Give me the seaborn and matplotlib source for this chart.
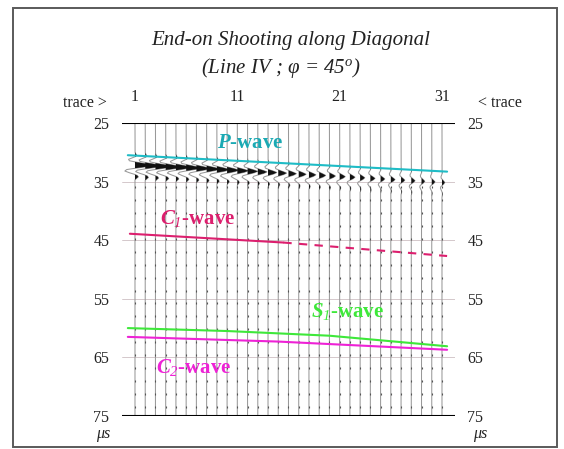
"""End-on shooting along diagonal: wiggle section with picked arrivals."""

import matplotlib

matplotlib.use("Agg")
import matplotlib.pyplot as plt
import numpy as np
import pandas as pd
import seaborn as sns
from matplotlib.patches import Rectangle

# --- data -----------------------------------------------------------------
traces = list(range(1, 32))
trace_ticks = [1, 11, 21, 31]
time_ticks = [25, 35, 45, 55, 65, 75]

peak_times = [32.2, 32.3, 32.4, 32.5, 32.55, 32.65, 32.75, 32.85, 32.95, 33.05,
              33.15, 33.25, 33.35, 33.45, 33.55, 33.65, 33.75, 33.85, 33.95, 34.05,
              34.15, 34.25, 34.35, 34.45, 34.55, 34.65, 34.75, 34.85, 34.95, 35.05, 35.15]
peak_amps = [2.0, 1.9, 1.85, 1.8, 1.7, 1.6, 1.5, 1.45, 1.4, 1.3,
             1.2, 1.1, 1.0, 0.95, 0.9, 0.85, 0.8, 0.75, 0.7, 0.65,
             0.6, 0.55, 0.5, 0.5, 0.45, 0.45, 0.4, 0.4, 0.35, 0.35, 0.3]

# wavelet shape, sampled every 0.25 us, peak at index 9
wavelet = [0.0, 0.03, 0.08, 0.05, -0.15, -0.35, -0.3, 0.1, 0.6, 1.0,
           0.65, 0.05, -0.45, -0.55, -0.35, -0.08, 0.12, 0.18, 0.08, 0.0]
wavelet_dt = 0.25
wavelet_peak = 9

# picked arrivals (trace, time in us)
p_wave_x = [0.3, 16.0, 31.5]
p_wave_t = [30.5, 31.9, 33.3]
c1_solid_x = [0.5, 15.5]
c1_solid_t = [43.9, 45.4]
c1_dash_x = [15.5, 31.5]
c1_dash_t = [45.4, 47.7]
s1_wave_x = [0.3, 10.0, 20.0, 31.5]
s1_wave_t = [60.0, 60.5, 61.3, 63.1]
c2_wave_x = [0.3, 15.0, 31.5]
c2_wave_t = [61.5, 62.3, 63.7]

P_COLOR = "#1fbcc6"
C1_COLOR = "#dc1f6e"
S1_COLOR = "#3ee83a"
C2_COLOR = "#ee22d6"

# --- style ----------------------------------------------------------------
sns.set_theme(style="white")
plt.rcParams["font.family"] = ["Liberation Serif", "DejaVu Serif"]
plt.rcParams["mathtext.fontset"] = "custom"
plt.rcParams["mathtext.rm"] = "Liberation Serif:italic"
plt.rcParams["mathtext.it"] = "Liberation Serif:italic:bold"
plt.rcParams["mathtext.bf"] = "Liberation Serif:bold"

fig = plt.figure(figsize=(5.64, 4.49), dpi=100)
ax = fig.add_axes([0.2163, 0.0735, 0.5904, 0.6526])

# frame around the whole figure
fig.patches.append(Rectangle((0.023, 0.004), 0.965, 0.978, transform=fig.transFigure,
                             fill=False, edgecolor="#5a5a5a", linewidth=1.4))

# grid lines and the two heavy bounding lines
for t in time_ticks[1:-1]:
    ax.axhline(t, color="#cdbfc3", linewidth=0.6, zorder=1)
ax.axhline(25, color="black", linewidth=1.5, zorder=4)
ax.axhline(75, color="black", linewidth=1.5, zorder=4)

# wiggle traces
w = np.asarray(wavelet)
w_t = (np.arange(len(w)) - wavelet_peak) * wavelet_dt
t_axis = np.arange(25.0, 75.01, 0.05)
for tr, tp, amp in zip(traces, peak_times, peak_amps):
    sig = np.interp(t_axis, tp + w_t, w, left=0.0, right=0.0) * amp * 0.9
    xx = tr + sig
    ax.plot(xx, t_axis, color="#999999", linewidth=0.75, zorder=2)
    ax.fill_betweenx(t_axis, tr, xx, where=sig > 0, color="#111111", linewidth=0, zorder=3)
    dots = np.arange(36.0, 74.0, 2.2)
    ax.plot(np.full_like(dots, tr), dots, linestyle="none", marker="|",
            markersize=2.0, color="#555555", markeredgewidth=0.8, zorder=2)

# picked arrivals
lines = pd.DataFrame({
    "trace": p_wave_x + c1_solid_x + s1_wave_x + c2_wave_x,
    "time": p_wave_t + c1_solid_t + s1_wave_t + c2_wave_t,
    "wave": (["P"] * len(p_wave_x) + ["C1"] * len(c1_solid_x)
             + ["S1"] * len(s1_wave_x) + ["C2"] * len(c2_wave_x)),
})
palette = {"P": P_COLOR, "C1": C1_COLOR, "S1": S1_COLOR, "C2": C2_COLOR}
sns.lineplot(data=lines, x="trace", y="time", hue="wave", palette=palette,
             sort=False, estimator=None, linewidth=1.5, legend=False, ax=ax, zorder=5)
ax.plot(c1_dash_x, c1_dash_t, color=C1_COLOR, linewidth=1.5, linestyle=(0, (4, 3.5)), zorder=5)

# wave labels
lab = dict(fontsize=15, fontweight="bold", va="center", ha="left", zorder=6)
ax.text(9.0, 28.5, r"$P$-wave", color="#1aa9b3", **lab)
ax.text(3.4, 41.3, r"$C_{1}$-wave", color=C1_COLOR, **lab)
ax.text(18.2, 57.2, r"$S_{1}$-wave", color=S1_COLOR, **lab)
ax.text(3.1, 66.7, r"$C_{2}$-wave", color=C2_COLOR, **lab)

# axes and ticks
ax.set_xlim(-0.27, 32.27)
ax.set_ylim(75, 25)
for s in ax.spines.values():
    s.set_visible(False)
ax.set_xticks(trace_ticks)
ax.set_yticks(time_ticks)
ax.xaxis.tick_top()
ax.tick_params(axis="x", length=0, pad=13, labelsize=11.5, colors="#222222")
ax.tick_params(axis="y", length=0, pad=9, labelsize=11.5, colors="#222222",
               left=False, right=False, labelleft=True, labelright=True)
ax.set_xlabel("")
ax.set_ylabel("")

# side annotations
fig.text(85 / 564, 1 - 103 / 449, "trace >", ha="center", va="center", fontsize=11.5, color="#222222")
fig.text(500 / 564, 1 - 103 / 449, "< trace", ha="center", va="center", fontsize=11.5, color="#222222")
fig.text(103 / 564, 1 - 434 / 449, "μs", ha="center", va="center", fontsize=11.5,
         style="italic", color="#222222")
fig.text(480 / 564, 1 - 434 / 449, "μs", ha="center", va="center", fontsize=11.5,
         style="italic", color="#222222")

# title
fig.text(291 / 564, 1 - 40 / 449, "End-on Shooting along Diagonal", ha="center", va="center",
         fontsize=15, style="italic", color="#222222")
fig.text(281 / 564, 1 - 68 / 449, r"(Line IV ; φ = 45$^{\mathrm{o}}$)", ha="center", va="center",
         fontsize=15, style="italic", color="#222222")

fig.savefig("out.png", dpi=100)
